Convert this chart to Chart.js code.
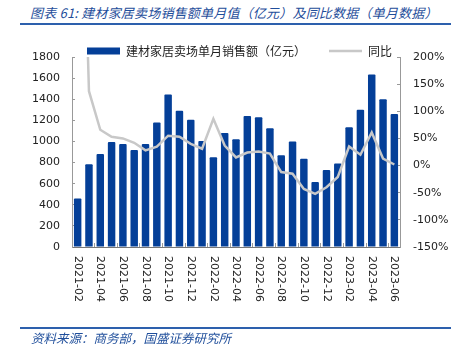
<!DOCTYPE html>
<html>
<head>
<meta charset="utf-8">
<script src="https://cdn.jsdelivr.net/npm/chart.js@4"></script>
<style>
  body { margin: 0; background: #fff; }
  #cadre { position: relative; width: 459px; height: 351px; overflow: hidden; }
  #graphique { position: absolute; left: 0; top: 0; }
  .titre { position: absolute; left: 30px; top: 3px; font: italic 13px "Noto Sans CJK SC"; color: #1f4e9b; white-space: nowrap; letter-spacing: 0.2px; }
  .regle { position: absolute; left: 20px; width: 431px; height: 2px; background: #2d60ad; }
  .source { position: absolute; left: 31px; top: 328px; font: italic 12.5px "Noto Sans CJK SC"; color: #1f4e9b; white-space: nowrap; }
</style>
</head>
<body>
<div id="cadre">
  <div class="titre">图表 61: 建材家居卖场销售额单月值（亿元）及同比数据（单月数据）</div>
  <div class="regle" style="top:23px"></div>
  <canvas id="graphique" width="459" height="351"></canvas>
  <div class="regle" style="top:327px"></div>
  <div class="source">资料来源：商务部，国盛证券研究所</div>
</div>
<script>
// donnees
const mois = ['2021-02', '2021-03', '2021-04', '2021-05', '2021-06', '2021-07', '2021-08', '2021-09', '2021-10', '2021-11', '2021-12',
  '2022-01', '2022-02', '2022-03', '2022-04', '2022-05', '2022-06', '2022-07', '2022-08', '2022-09', '2022-10', '2022-11', '2022-12',
  '2023-01', '2023-02', '2023-03', '2023-04', '2023-05', '2023-06'];
const ventes = [460, 785, 880, 995, 975, 920, 975, 1180, 1445, 1290, 1205,
  1005, 850, 1080, 1020, 1240, 1230, 1125, 870, 1000, 835, 615, 730,
  790, 1135, 1300, 1635, 1400, 1260];
const croissance = [850, 137, 66, 53, 50, 42, 28, 35, 55, 53, 40,
  31, 86, 37, 15, 24, 26, 22, -12, -15, -43, -52, -40,
  -21, 35, 20, 61, 13, 2];
const nomVentes = '建材家居卖场单月销售额（亿元）';
const nomCroissance = '同比';

const bleu = '#043f98';
const gris = '#c8c8c8';
const axe = '#999999';

// etiquettes de l'axe x lues de haut en bas
const etiquettesVerticales = {
  id: 'etiquettesVerticales',
  beforeDraw(chart) {
    chart.scales.x.getLabelItems().forEach(item => {
      item.options.rotation = Math.PI / 2;
      item.options.textAlign = 'left';
      item.textOffset = -Math.abs(item.textOffset);
    });
  }
};

// legende descendue contre le haut de la zone du graphique
const legendeBasse = {
  id: 'legendeBasse',
  afterLayout(chart) {
    const leg = chart.legend;
    if (leg) {
      leg.top += 10;
      leg.bottom += 10;
    }
  }
};

const ctx = document.getElementById('graphique').getContext('2d');
const graphique = new Chart(ctx, {
  data: {
    labels: mois,
    datasets: [{
      type: 'bar',
      label: nomVentes,
      data: ventes,
      backgroundColor: bleu,
      borderWidth: 0,
      borderRadius: 1,
      barPercentage: 0.66,
      categoryPercentage: 1,
      yAxisID: 'y',
      order: 2,
      pointStyle: 'rect'
    }, {
      type: 'line',
      label: nomCroissance,
      data: croissance,
      borderColor: gris,
      backgroundColor: gris,
      borderWidth: 2.5,
      pointRadius: 0,
      tension: 0,
      yAxisID: 'y1',
      order: 1,
      pointStyle: 'line'
    }]
  },
  options: {
    responsive: false,
    animation: false,
    layout: { padding: { left: 30, right: 10, top: 12, bottom: 0 } },
    plugins: {
      tooltip: { enabled: false },
      legend: {
        position: 'top',
        labels: {
          usePointStyle: true,
          pointStyleWidth: 33,
          boxHeight: 7,
          padding: 23,
          color: '#222',
          font: { family: '"Noto Sans CJK SC"', size: 12 },
          sort: (a, b) => a.datasetIndex - b.datasetIndex
        }
      }
    },
    scales: {
      x: {
        offset: true,
        afterFit: (s) => { s.height = 104; },
        grid: {
          offset: true,
          drawOnChartArea: false,
          tickLength: -4,
          color: (c) => c.index % 2 === 0 ? axe : 'rgba(0,0,0,0)'
        },
        border: { color: '#777' },
        ticks: {
          autoSkip: false,
          minRotation: 90,
          maxRotation: 90,
          padding: 13,
          color: '#222',
          font: { family: 'DejaVu Sans', size: 11 },
          callback: (v, i) => i % 2 === 0 ? mois[i] : ''
        }
      },
      y: {
        position: 'left',
        min: 0,
        max: 1800,
        afterFit: (s) => { s.width = 42; },
        grid: { drawOnChartArea: false, tickLength: -3, color: axe },
        border: { color: axe },
        ticks: {
          stepSize: 200,
          padding: 15,
          color: '#222',
          font: { family: 'DejaVu Sans', size: 11 },
          callback: (v) => String(v)
        }
      },
      y1: {
        position: 'right',
        min: -150,
        max: 200,
        afterFit: (s) => { s.width = 49; },
        grid: { drawOnChartArea: false, tickLength: -3, color: axe },
        border: { color: axe },
        ticks: {
          stepSize: 50,
          padding: 16,
          color: '#222',
          font: { family: 'DejaVu Sans', size: 11 },
          callback: (v) => v + '%'
        }
      }
    }
  },
  plugins: [etiquettesVerticales, legendeBasse]
});
</script>
</body>
</html>
